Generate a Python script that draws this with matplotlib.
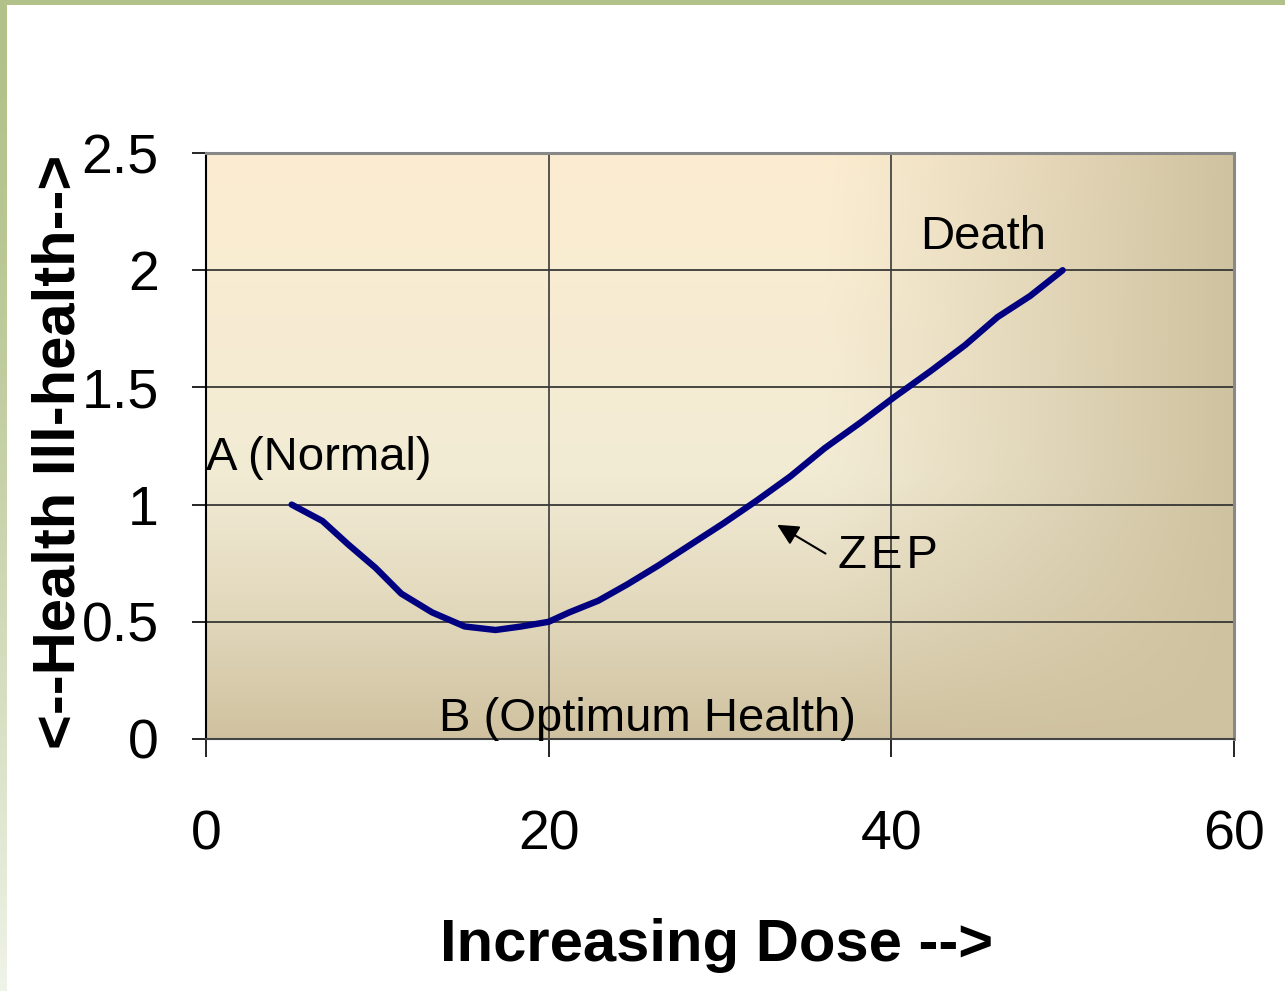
import matplotlib
matplotlib.use('agg')

import matplotlib.pyplot as plt
import numpy as np

# curve
dose = [5, 6.8, 8.3, 9.9, 11.4, 13.2, 15.1, 16.9, 18.4, 20, 21.2, 22.9, 24.6,
        26.4, 28.3, 30.2, 32.2, 34.1, 36.1, 38.2, 40.2, 42.3, 44.3, 46.2, 48.1, 50]
health = [1.0, 0.93, 0.83, 0.73, 0.62, 0.54, 0.48, 0.465, 0.48, 0.50, 0.54, 0.59, 0.66,
          0.74, 0.83, 0.92, 1.02, 1.12, 1.24, 1.35, 1.46, 1.57, 1.68, 1.80, 1.89, 2.0]

x_ticks = [0, 20, 40, 60]
y_ticks = [0, 0.5, 1, 1.5, 2, 2.5]
y_tick_labels = ['0', '0.5', '1', '1.5', '2', '2.5']

plt.rcParams['font.family'] = ['Liberation Sans', 'DejaVu Sans']

fig = plt.figure(figsize=(12.85, 9.91), dpi=100)
fig.patch.set_facecolor('white')

# green frame on top and left
frame = fig.add_axes([0, 0, 1, 1], zorder=-5)
frame.set_axis_off()
frame.set_xlim(0, 1285)
frame.set_ylim(991, 0)
frame.add_patch(plt.Rectangle((0, 0), 1285, 5, color='#b2c189', lw=0))
strip = np.ones((200, 1, 3))
fade = np.linspace(0, 1, 200) ** 1.5
top_c = np.array([178, 193, 137]) / 255
bot_c = np.array([240, 243, 232]) / 255
strip[:, 0, :] = top_c[None, :] * (1 - fade[:, None]) + bot_c[None, :] * fade[:, None]
frame.imshow(strip, extent=(0, 7, 991, 0), aspect='auto', interpolation='bilinear')

ax = fig.add_axes([0.1603, 0.2543, 0.8, 0.5913])

# background gradient
h, w = 200, 300
t = np.linspace(0, 1, h)[:, None]  # 0 bottom .. 1 top
stops_t = [0, 0.25, 0.45, 1.0]
stops_c = np.array([[208, 194, 160], [228, 219, 192], [242, 235, 212], [252, 237, 209]]) / 255
vert = np.stack([np.interp(t[:, 0], stops_t, stops_c[:, k]) for k in range(3)], axis=1)
img = np.repeat(vert[:, None, :], w, axis=1)
xf = np.linspace(0, 1, w)
wgt = np.clip((xf - 0.6) / 0.4, 0, 1) ** 1.1
tan = np.array([207, 194, 160]) / 255
img = img * (1 - wgt[None, :, None]) + tan[None, None, :] * wgt[None, :, None]
ax.imshow(img, extent=(0, 60, 0, 2.5), origin='lower', aspect='auto', zorder=0)

ax.set_xlim(0, 60)
ax.set_ylim(0, 2.5)

for yv in [0.5, 1, 1.5, 2]:
    ax.axhline(yv, color='#2a2a2a', lw=1.2, zorder=1)
for xv in [20, 40]:
    ax.axvline(xv, color='#3a3a3a', lw=1.2, zorder=1)

ax.plot(dose, health, color='#000080', lw=4.6, solid_capstyle='round',
        solid_joinstyle='round', zorder=3)

ax.spines['left'].set_color('black')
ax.spines['left'].set_linewidth(1.5)
ax.spines['bottom'].set_color('#444444')
ax.spines['bottom'].set_linewidth(1.5)
for s in ['top', 'right']:
    ax.spines[s].set_color('#888888')
    ax.spines[s].set_linewidth(2.2)

ax.set_xticks(x_ticks)
ax.set_xticklabels([str(v) for v in x_ticks])
ax.set_yticks(y_ticks)
ax.set_yticklabels(y_tick_labels)
ax.tick_params(axis='x', direction='out', length=13, width=1.2, color='black',
               pad=38, labelsize=40)
ax.tick_params(axis='y', direction='out', length=10, width=1.2, color='black',
               pad=24, labelsize=40)

ax.set_xlabel('Increasing Dose -->', fontsize=43, fontweight='bold')
ax.xaxis.set_label_coords(0.497, -0.305)
ax.set_ylabel('<--Health Ill-health-->', fontsize=43, fontweight='bold')
ax.yaxis.set_label_coords(-0.116, 0.49)

ax.text(0, 1.2, 'A (Normal)', fontsize=34, va='center', ha='left', zorder=4)
ax.text(41.7, 2.14, 'Death', fontsize=34, va='center', ha='left', zorder=4)
ax.text(13.6, 0.085, 'B (Optimum Health)', fontsize=34, va='center', ha='left', zorder=4)
ax.text(36.9, 0.78, 'Z\u200aE\u200aP', fontsize=34, va='center', ha='left', zorder=4)
ax.annotate('', xy=(33.2, 0.92), xytext=(36.3, 0.785),
            arrowprops=dict(arrowstyle='-|>', color='black', lw=1.5,
                            mutation_scale=32), zorder=4)

fig.savefig('out.png', dpi=100)
